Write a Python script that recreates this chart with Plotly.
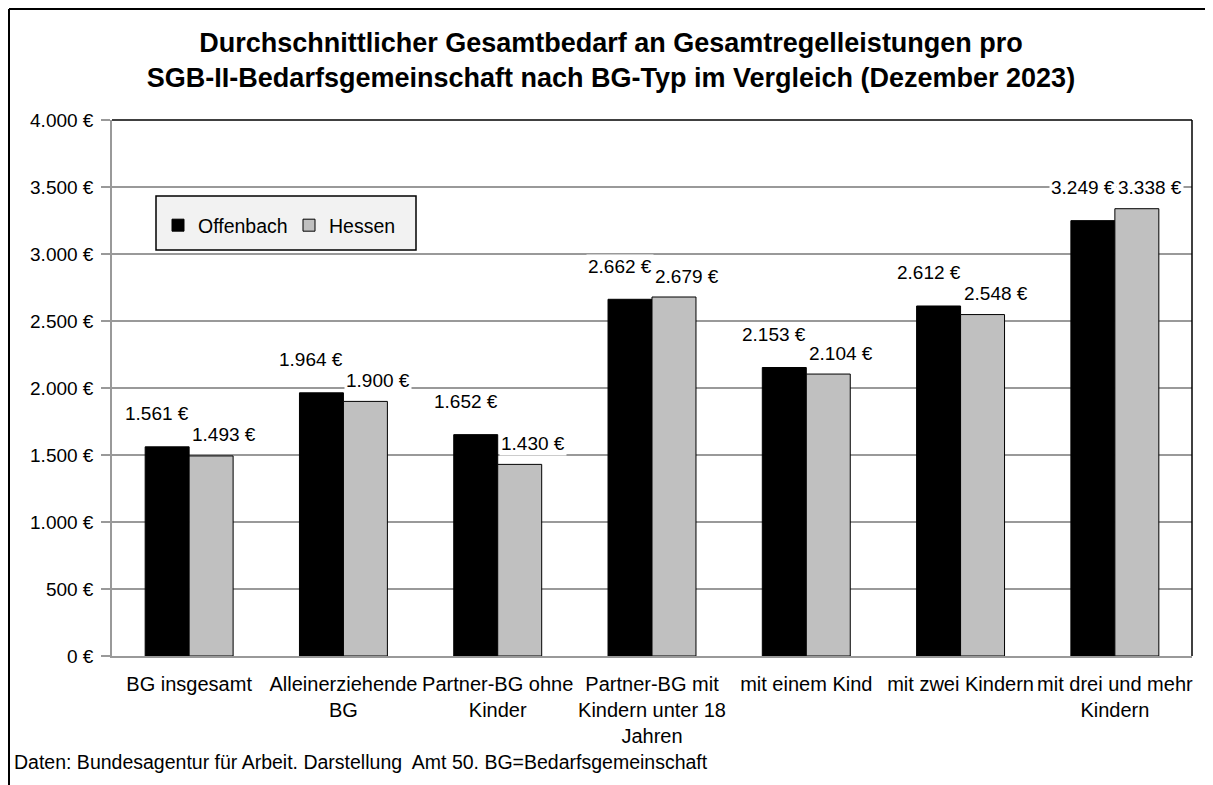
import plotly.graph_objects as go

categories = ["BG insgesamt", "Alleinerziehende<br>BG", "Partner-BG ohne<br>Kinder",
              "Partner-BG mit<br>Kindern unter 18<br>Jahren", "mit einem Kind",
              "mit zwei Kindern", "mit drei und mehr<br>Kindern"]
offenbach = [1561, 1964, 1652, 2662, 2153, 2612, 3249]
hessen = [1493, 1900, 1430, 2679, 2104, 2548, 3338]
y_ticks = [0, 500, 1000, 1500, 2000, 2500, 3000, 3500, 4000]
y_tick_labels = ["0 €", "500 €", "1.000 €", "1.500 €", "2.000 €", "2.500 €", "3.000 €", "3.500 €", "4.000 €"]

FONT = "Liberation Sans, Arial, sans-serif"

def fmt(v):
    return f"{v:,}".replace(",", ".") + " €"

# page body has an 8px margin; figure placed at (8, 8)
OFF = 8
W, H = 1205, 777
L, T = 104, 112
PW, PH = 1080, 536
R = W - L - PW
B = H - T - PH

def px_x(p):
    return (p - OFF - L) / PW

def px_y(p):
    return (T + PH - (p - OFF)) / PH

fig = go.Figure()
fig.add_trace(go.Bar(name="Offenbach", x=categories, y=offenbach,
                     marker=dict(color="#000000", line=dict(color="#000000", width=1))))
fig.add_trace(go.Bar(name="Hessen", x=categories, y=hessen,
                     marker=dict(color="#c0c0c0", line=dict(color="#000000", width=1))))

annotations = []
for c, v in zip(categories, offenbach):
    annotations.append(dict(x=c, y=v, xref="x", yref="y", text=fmt(v), showarrow=False,
                            xshift=-22 - 10, yshift=33, yanchor="middle", bgcolor="white",
                            borderpad=1, font=dict(family=FONT, size=19, color="#000")))
for c, v in zip(categories, hessen):
    annotations.append(dict(x=c, y=v, xref="x", yref="y", text=fmt(v), showarrow=False,
                            xshift=22 + 13, yshift=21, yanchor="middle", bgcolor="white",
                            borderpad=1, font=dict(family=FONT, size=19, color="#000")))
annotations.append(dict(x=px_x(12), y=px_y(762), xref="paper", yref="paper",
                        text="Daten: Bundesagentur für Arbeit. Darstellung  Amt 50. BG=Bedarfsgemeinschaft",
                        showarrow=False, xanchor="left", yanchor="middle",
                        font=dict(family=FONT, size=19.5, color="#000")))

shapes = [
    # outer chart frame (left and top edges visible)
    dict(type="line", xref="paper", yref="paper", x0=px_x(9), x1=px_x(9),
         y0=px_y(9), y1=px_y(800), line=dict(color="#000", width=2)),
    dict(type="line", xref="paper", yref="paper", x0=px_x(9), x1=px_x(1300),
         y0=px_y(9), y1=px_y(9), line=dict(color="#000", width=2)),
    # plot-area frame top and right
    dict(type="line", xref="paper", yref="paper", x0=0, x1=1, y0=1, y1=1,
         line=dict(color="#000", width=1.5), layer="above"),
    dict(type="line", xref="paper", yref="paper", x0=1, x1=1, y0=0, y1=1,
         line=dict(color="#000", width=1.5), layer="above"),
    # legend box
    dict(type="rect", xref="paper", yref="paper", x0=px_x(156), x1=px_x(416),
         y0=px_y(250), y1=px_y(196), fillcolor="#f2f2f2",
         line=dict(color="#000", width=1.5), layer="above"),
]

fig.update_layout(
    width=W, height=H,
    margin=dict(l=L, r=R, t=T, b=B, autoexpand=False),
    paper_bgcolor="white", plot_bgcolor="white",
    barmode="group", bargap=0.43, bargroupgap=0,
    font=dict(family=FONT, size=19, color="#000"),
    title=dict(text="<b>Durchschnittlicher Gesamtbedarf an Gesamtregelleistungen pro<br>"
                    "SGB-II-Bedarfsgemeinschaft nach BG-Typ im Vergleich (Dezember 2023)</b>",
               x=px_x(611), xref="paper", xanchor="center",
               y=1 - 44 / H, yref="container", yanchor="top",
               font=dict(family=FONT, size=27, color="#000")),
    showlegend=True,
    legend=dict(orientation="h", x=px_x(158), y=px_y(206),
                xanchor="left", yanchor="top",
                bgcolor="rgba(0,0,0,0)", borderwidth=0,
                font=dict(family=FONT, size=19.5, color="#000"),
                entrywidth=86, itemwidth=30),
    xaxis=dict(showline=True, linecolor="#999", linewidth=1.5, ticks="",
               tickangle=0, automargin=False,
               tickfont=dict(family=FONT, size=20), showgrid=False, ticklabelstandoff=9),
    yaxis=dict(range=[0, 4000], tickvals=y_ticks, ticktext=y_tick_labels, automargin=False,
               showline=True, linecolor="#999", linewidth=1.5,
               ticks="outside", ticklen=9, tickcolor="#999", tickwidth=1.5,
               showgrid=True, gridcolor="#999", gridwidth=1.5, zeroline=False,
               tickfont=dict(family=FONT, size=19), ticklabelstandoff=4),
    annotations=annotations,
    shapes=shapes,
)

fig.write_html("out.html")
